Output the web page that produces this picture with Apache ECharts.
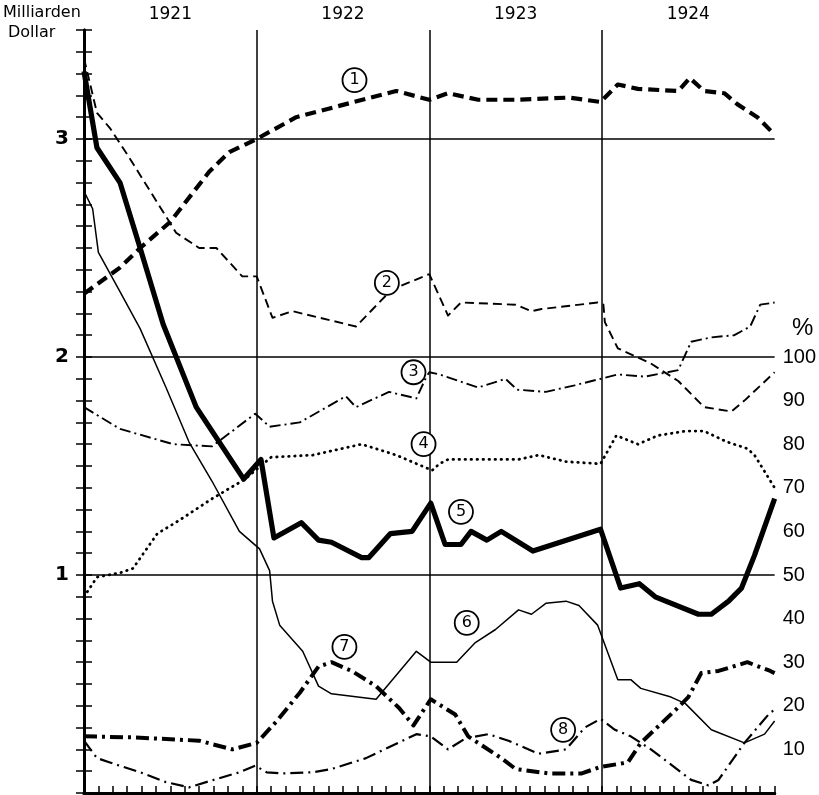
<!DOCTYPE html>
<html><head><meta charset="utf-8">
<script src="https://cdn.jsdelivr.net/npm/echarts@6/dist/echarts.min.js"></script>
<style>html,body{margin:0;padding:0;background:#fff}#c{width:819px;height:795px}</style>
</head><body><div id="c"></div>
<script>
// x = months since start of 1921 (0..48); y = Milliarden Dollar (right axis: % = value*50)
const years = ['1921', '1922', '1923', '1924'];
const yearBoundaries = [12, 24, 36];
const valueGridLines = [1, 2, 3];
const leftTickLabels = [1, 2, 3];
const rightTickLabels = [10, 20, 30, 40, 50, 60, 70, 80, 90, 100];

const s1 = [[0,2.29],[2.5,2.41],[3.9,2.5],[6.0,2.62],[8.7,2.85],[10.1,2.94],[12.0,3.0],[14.75,3.1],[18.2,3.16],[21.7,3.22],[24.0,3.18],[25.3,3.21],[27.4,3.18],[30.2,3.18],[33.7,3.19],[35.9,3.17],[37.1,3.25],[38.5,3.23],[41.3,3.22],[42.1,3.28],[43.1,3.22],[44.5,3.21],[45.4,3.16],[46.8,3.1],[48,3.02]];
const s2 = [[0,3.37],[0.9,3.12],[1.8,3.05],[3.0,2.93],[6.4,2.57],[8.0,2.5],[9.2,2.5],[11.0,2.37],[12.0,2.37],[13.1,2.18],[14.5,2.21],[18.9,2.14],[21.4,2.31],[24.0,2.38],[25.3,2.19],[26.2,2.25],[30.0,2.24],[31.1,2.21],[31.8,2.22],[35.7,2.25],[36.1,2.24],[36.2,2.16],[37.1,2.04],[39.4,1.97],[41.3,1.89],[43.1,1.77],[45.0,1.75],[45.9,1.8],[48,1.93]];
const s3 = [[0,1.77],[2.5,1.67],[6.2,1.6],[8.9,1.59],[11.9,1.74],[12.9,1.68],[15.0,1.7],[18.2,1.82],[18.9,1.77],[21.2,1.84],[23.1,1.81],[23.8,1.91],[24.0,1.93],[24.7,1.92],[27.4,1.86],[29.3,1.9],[30.1,1.85],[32.1,1.84],[34.1,1.87],[35.9,1.9],[37.1,1.92],[39.0,1.91],[41.3,1.94],[42.2,2.07],[43.6,2.09],[45.2,2.1],[46.3,2.14],[47.0,2.24],[48,2.25]];
const s4 = [[0,0.9],[0.9,0.99],[2.5,1.01],[3.4,1.03],[5.1,1.19],[6.6,1.25],[8.9,1.35],[11.2,1.44],[13.0,1.54],[15.9,1.55],[19.3,1.6],[21.7,1.55],[24.2,1.48],[24.7,1.51],[25.3,1.53],[30.2,1.53],[31.6,1.55],[33.5,1.52],[35.9,1.51],[37.0,1.64],[38.5,1.6],[39.9,1.64],[41.8,1.66],[43.1,1.66],[44.7,1.61],[46.1,1.58],[46.6,1.55],[48,1.4]];
const s5 = [[0,3.31],[0.9,2.96],[2.5,2.8],[3.9,2.5],[5.5,2.15],[7.8,1.77],[11.1,1.44],[12.3,1.53],[13.2,1.17],[15.1,1.24],[16.3,1.16],[17.2,1.15],[19.3,1.08],[19.8,1.08],[21.3,1.19],[22.8,1.2],[24.1,1.33],[25.1,1.14],[26.2,1.14],[26.9,1.2],[28.0,1.16],[29.0,1.2],[31.2,1.11],[35.9,1.21],[37.3,0.94],[38.6,0.96],[39.7,0.9],[42.7,0.82],[43.6,0.82],[44.8,0.88],[45.7,0.94],[46.6,1.09],[48,1.35]];
const s6 = [[0,2.76],[0.6,2.68],[1.0,2.48],[2.5,2.3],[3.9,2.13],[5.7,1.86],[7.3,1.61],[8.9,1.43],[10.8,1.2],[12.2,1.12],[12.9,1.02],[13.1,0.88],[13.6,0.77],[15.2,0.65],[16.3,0.49],[17.2,0.455],[20.3,0.43],[23.1,0.65],[24.1,0.6],[25.9,0.6],[27.2,0.69],[28.6,0.75],[30.2,0.84],[31.1,0.82],[32.1,0.87],[33.5,0.88],[34.4,0.86],[35.7,0.77],[37.1,0.52],[38.0,0.52],[38.7,0.48],[40.8,0.44],[41.8,0.41],[43.6,0.29],[45.9,0.23],[47.3,0.27],[48,0.33]];
const s7 = [[0,0.26],[3.4,0.255],[8.0,0.24],[10.3,0.2],[12.0,0.23],[13.4,0.33],[15.0,0.46],[16.3,0.58],[17.2,0.6],[18.6,0.56],[20.3,0.49],[21.9,0.39],[22.9,0.31],[24.1,0.43],[25.8,0.36],[26.7,0.26],[29.0,0.16],[30.0,0.11],[32.3,0.09],[34.6,0.09],[35.9,0.12],[37.8,0.14],[38.7,0.23],[41.1,0.38],[42.0,0.44],[42.9,0.55],[44.1,0.56],[46.1,0.6],[47.7,0.56],[48,0.55]];
const s8 = [[0,0.24],[0.9,0.16],[1.8,0.14],[3.9,0.095],[5.7,0.05],[7.3,0.026],[8.9,0.058],[10.8,0.095],[11.9,0.125],[12.7,0.095],[13.8,0.09],[15.9,0.095],[17.2,0.11],[19.6,0.16],[23.1,0.27],[24.1,0.26],[25.3,0.2],[26.5,0.25],[28.1,0.27],[29.5,0.24],[31.6,0.18],[33.5,0.2],[34.8,0.3],[35.9,0.34],[36.9,0.29],[38.0,0.26],[39.4,0.2],[42.2,0.06],[43.4,0.035],[44.1,0.06],[45.9,0.23],[46.8,0.3],[47.7,0.37],[48,0.38]];

const seriesNumbers = ['1','2','3','4','5','6','7','8'];
const numberMarkerCoords = [[18.8,3.27],[21.05,2.34],[22.9,1.93],[23.6,1.6],[26.2,1.29],[26.6,0.78],[18.1,0.67],[33.3,0.29]];

const styles = [
  {width:4.2, type:[11,6]},
  {width:1.9, type:[9,5]},
  {width:1.9, type:[11,4,2,4]},
  {width:2.8, type:[0.5,5.5], cap:'round'},
  {width:5.2, type:'solid'},
  {width:1.5, type:'solid'},
  {width:4, type:[13,5,3,5]},
  {width:2.2, type:[13,5,2,5]}
];
const allData = [s1,s2,s3,s4,s5,s6,s7,s8];

const chart = echarts.init(document.getElementById('c'), null, {renderer:'canvas'});
const isNear = (v, t) => Math.abs(v - t) < 1e-6;

const series = allData.map((d, i) => ({
  type:'line', data:d, xAxisIndex:0, yAxisIndex:0, symbol:'none', silent:true,
  lineStyle:Object.assign({color:'#000', join:'round'}, styles[i]), z:3
}));
series.push({
  type:'line', data:[], xAxisIndex:0, yAxisIndex:0, symbol:'none', silent:true,
  markLine:{silent:true, symbol:['none','none'], label:{show:false},
    lineStyle:{color:'#000', width:1.5, type:'solid'},
    data:valueGridLines.map(v => ({yAxis:v})).concat(yearBoundaries.map(v => ({xAxis:v})))},
  markPoint:{silent:true, symbol:'circle', symbolSize:24,
    itemStyle:{color:'#fff', borderColor:'#000', borderWidth:1.8},
    label:{show:true, color:'#000', fontSize:16, fontFamily:'DejaVu Sans', formatter:p => p.name},
    data:numberMarkerCoords.map((c, i) => ({name:seriesNumbers[i], coord:c}))},
  z:4
});

chart.setOption({
  animation:false,
  backgroundColor:'#fff',
  grid:{left:84, right:42, top:30, bottom:2, containLabel:false},
  xAxis:[
    {type:'value', min:0, max:48, interval:1, position:'bottom',
      axisLine:{show:true, lineStyle:{color:'#000', width:3}},
      axisTick:{show:true, inside:true, length:7, lineStyle:{color:'#000', width:1.5}},
      axisLabel:{show:false}, splitLine:{show:false}},
    {type:'value', min:0, max:48, interval:1, position:'top',
      axisLine:{show:true, lineStyle:{color:'#000', width:3}},
      axisTick:{show:true, inside:true, length:7, lineStyle:{color:'#000', width:1.5}},
      axisLabel:{show:true, margin:7, color:'#000', fontSize:17, fontFamily:'DejaVu Sans',
        formatter:v => { const k = Math.round(v); return (isNear(v,k) && k % 12 === 6) ? years[(k - 6) / 12] : ''; }},
      splitLine:{show:false}}
  ],
  yAxis:[
    {type:'value', min:0, max:3.5, interval:0.1, position:'left',
      axisLine:{show:true, lineStyle:{color:'#000', width:3}},
      axisTick:{show:true, inside:true, length:8, lineStyle:{color:'#000', width:1.5}},
      axisLabel:{show:true, margin:15, color:'#000', fontSize:20, fontWeight:'bold', fontFamily:'DejaVu Sans',
        formatter:v => { const k = Math.round(v); return (isNear(v,k) && leftTickLabels.includes(k)) ? String(k) : ''; }},
      splitLine:{show:false}},
    {type:'value', min:0, max:175, interval:5, position:'right',
      axisLine:{show:true, lineStyle:{color:'#000', width:3}},
      axisTick:{show:true, inside:true, length:8, lineStyle:{color:'#000', width:1.5}},
      axisLabel:{show:true, margin:8, color:'#000', fontSize:20, fontFamily:'Liberation Sans', align:'left',
        formatter:v => { const k = Math.round(v); return (isNear(v,k) && rightTickLabels.includes(k)) ? String(k) : ''; }},
      splitLine:{show:false}}
  ],
  graphic:[
    {type:'text', left:3, top:5, style:{text:'Milliarden', font:'16px "DejaVu Sans"', fill:'#000'}},
    {type:'text', left:8, top:25, style:{text:'Dollar', font:'16px "DejaVu Sans"', fill:'#000'}},
    {type:'text', left:792, top:316, style:{text:'%', font:'24px "Liberation Sans"', fill:'#000'}}
  ],
  series:series
});
</script></body></html>
